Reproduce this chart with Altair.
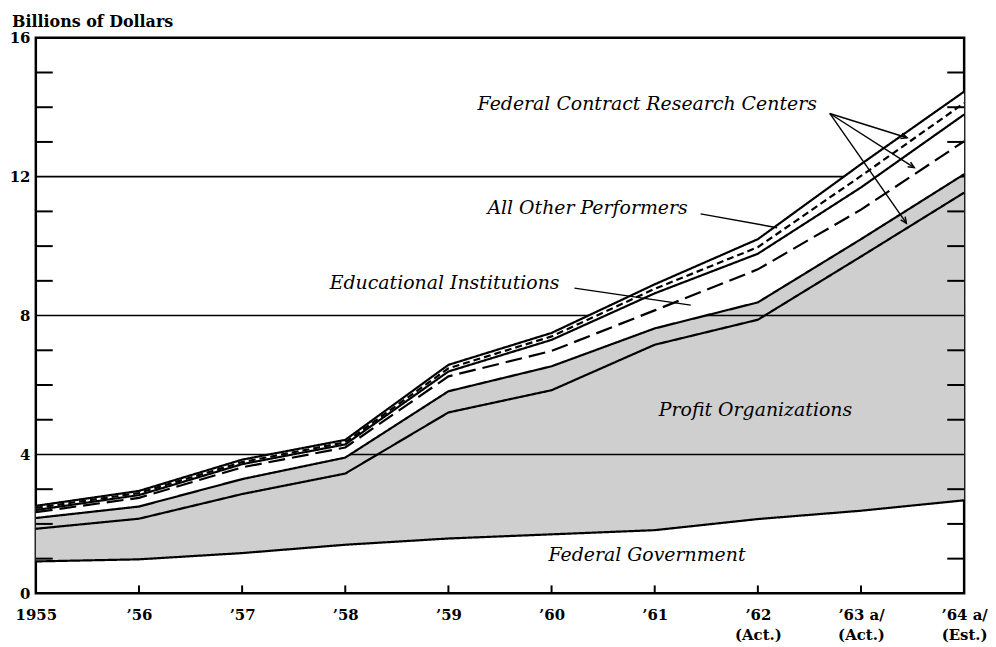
import json
import math
import altair as alt
import pandas as pd

# ---------------- data (billions of dollars, cumulative boundaries) ----------------
years = [1955, 1956, 1957, 1958, 1959, 1960, 1961, 1962, 1963, 1964]
federal_government = [0.92, 0.98, 1.16, 1.40, 1.58, 1.70, 1.82, 2.14, 2.38, 2.68]
profit_org_top = [1.86, 2.15, 2.86, 3.45, 5.21, 5.85, 7.16, 7.88, 9.70, 11.54]
fcrc_industry_top = [2.17, 2.50, 3.29, 3.91, 5.82, 6.54, 7.63, 8.38, 10.20, 12.07]
educational_top = [2.34, 2.75, 3.63, 4.20, 6.25, 6.98, 8.15, 9.33, 11.05, 13.02]
fcrc_univ_top = [2.40, 2.83, 3.72, 4.29, 6.39, 7.30, 8.64, 9.78, 11.69, 13.79]
all_other_top = [2.46, 2.89, 3.78, 4.35, 6.48, 7.40, 8.77, 9.97, 12.02, 14.12]
fcrc_other_top = [2.52, 2.95, 3.85, 4.42, 6.58, 7.50, 8.90, 10.20, 12.36, 14.45]

y_title = ["Billions of Dollars"]
x_tick_labels = [["1955"], ["\u201956"], ["\u201957"], ["\u201958"], ["\u201959"],
                 ["\u201960"], ["\u201961"], ["\u201962", "(Act.)"],
                 ["\u201963 a/", "(Act.)"], ["\u201964 a/", "(Est.)"]]
y_label_values = [0, 4, 8, 12, 16]
y_grid_values = [4, 8, 12]
y_minor_ticks = [1, 2, 3, 5, 6, 7, 9, 10, 11, 13, 14, 15]
x_inner_ticks = [1956, 1957, 1958, 1959, 1960, 1961, 1962, 1963]

# annotations (data units)
left_labels = ["Profit Organizations", "Federal Government"]
left_label_x = [1961.04, 1959.97]
left_label_y = [5.29, 1.09]
right_labels = ["Federal Contract Research Centers", "All Other Performers", "Educational Institutions"]
right_label_x = [1962.572, 1961.32, 1960.077]
right_label_y = [14.08, 11.10, 8.93]

pointer_x0 = [1961.445, 1960.222]
pointer_y0 = [10.93, 8.79]
pointer_x1 = [1962.187, 1961.349]
pointer_y1 = [10.53, 8.30]

arrow_origin_x = 1962.697
arrow_origin_y = 13.82
arrow_tip_x = [1963.447, 1963.516, 1963.440]
arrow_tip_y = [13.12, 12.26, 10.66]

# ---------------- layout ----------------
W, H = 934, 559
FONT = "DejaVu Serif"
px_per_year = W / 9.0
px_per_unit = H / 16.0

xs = alt.Scale(domain=[1955, 1964], nice=False, zero=False)
ys = alt.Scale(domain=[0, 16], nice=False)

wide = pd.DataFrame({
    "year": years, "fg": federal_government, "po": profit_org_top,
    "fi": fcrc_industry_top, "ei": educational_top, "fu": fcrc_univ_top,
    "ao": all_other_top, "fo": fcrc_other_top,
})

series_order = ["fg", "po", "fi", "ei", "fu", "ao", "fo"]
series_dash = [[1, 0], [1, 0], [1, 0], [17, 7], [1, 0], [7, 4], [1, 0]]
long = wide.melt(id_vars="year", value_vars=series_order, var_name="series", value_name="value")

label_expr = json.dumps(x_tick_labels, ensure_ascii=False) + "[round(datum.value) - 1955]"

x_axis = alt.Axis(values=years, labelExpr=label_expr, ticks=False, domain=False, grid=False,
                  labelPadding=14, labelBaseline="top", labelLineHeight=20, labelFlush=False,
                  labelOverlap=False, labelFont=FONT, labelFontSize=15, labelFontWeight="bold",
                  labelColor="black", title=None)
y_axis = alt.Axis(values=y_label_values, ticks=False, domain=False, grid=False,
                  labelPadding=6, labelFont=FONT, labelFontSize=15, labelColor="black",
                  labelFontWeight="bold", title=None)

base = alt.Chart(wide)

shaded = base.mark_area(color="#cfcfcf", opacity=1).encode(
    x=alt.X("year:Q", scale=xs, axis=x_axis),
    y=alt.Y("fg:Q", scale=ys, axis=y_axis),
    y2="fi:Q",
)

grid = alt.Chart(pd.DataFrame({"v": y_grid_values})).mark_rule(color="black", strokeWidth=1.6).encode(
    y=alt.Y("v:Q", scale=ys)
)

white_band = base.mark_area(color="white", opacity=1).encode(
    x=alt.X("year:Q", scale=xs), y=alt.Y("fi:Q", scale=ys), y2="fo:Q"
)

lines = alt.Chart(long).mark_line(color="black", strokeWidth=2.2).encode(
    x=alt.X("year:Q", scale=xs),
    y=alt.Y("value:Q", scale=ys),
    detail="series:N",
    strokeDash=alt.StrokeDash("series:N", scale=alt.Scale(domain=series_order, range=series_dash), legend=None),
)

ytick_df = pd.DataFrame({"v": y_minor_ticks})
left_ticks = alt.Chart(ytick_df).mark_rule(color="black", strokeWidth=2).encode(
    y=alt.Y("v:Q", scale=ys), x=alt.value(0), x2=alt.value(17)
)
right_ticks = alt.Chart(ytick_df).mark_rule(color="black", strokeWidth=2).encode(
    y=alt.Y("v:Q", scale=ys), x=alt.value(W - 17), x2=alt.value(W)
)
bottom_ticks = alt.Chart(pd.DataFrame({"yr": x_inner_ticks})).mark_rule(color="black", strokeWidth=2).encode(
    x=alt.X("yr:Q", scale=xs), y=alt.value(H), y2=alt.value(H - 8)
)

seg_df = pd.DataFrame({
    "x0": pointer_x0 + [arrow_origin_x] * len(arrow_tip_x),
    "y0": pointer_y0 + [arrow_origin_y] * len(arrow_tip_x),
    "x1": pointer_x1 + arrow_tip_x,
    "y1": pointer_y1 + arrow_tip_y,
})
pointers = alt.Chart(seg_df).mark_rule(color="black", strokeWidth=1.4).encode(
    x=alt.X("x0:Q", scale=xs), x2="x1:Q", y=alt.Y("y0:Q", scale=ys), y2="y1:Q"
)

angles = []
for tx, ty in zip(arrow_tip_x, arrow_tip_y):
    dx = (tx - arrow_origin_x) * px_per_year
    dy = -(ty - arrow_origin_y) * px_per_unit
    angles.append(math.degrees(math.atan2(dx, -dy)) % 360)
head_df = pd.DataFrame({"x": arrow_tip_x, "y": arrow_tip_y, "ang": angles})
heads = alt.Chart(head_df).mark_point(
    shape="M -0.45 1 L 0 0 L 0.45 1", filled=False, color="black", strokeWidth=1.5, size=150, opacity=1
).encode(
    x=alt.X("x:Q", scale=xs), y=alt.Y("y:Q", scale=ys), angle=alt.Angle("ang:Q", scale=None)
)

ltxt = alt.Chart(pd.DataFrame({"x": left_label_x, "y": left_label_y, "t": left_labels})).mark_text(
    align="left", baseline="middle", font=FONT, fontSize=19, fontStyle="italic", color="black"
).encode(x=alt.X("x:Q", scale=xs), y=alt.Y("y:Q", scale=ys), text="t:N")
rtxt = alt.Chart(pd.DataFrame({"x": right_label_x, "y": right_label_y, "t": right_labels})).mark_text(
    align="right", baseline="middle", font=FONT, fontSize=19, fontStyle="italic", color="black"
).encode(x=alt.X("x:Q", scale=xs), y=alt.Y("y:Q", scale=ys), text="t:N")

title_txt = alt.Chart(pd.DataFrame({"t": y_title})).mark_text(
    align="left", baseline="alphabetic", font=FONT, fontSize=16, fontWeight="bold", color="black"
).encode(x=alt.value(-24), y=alt.value(-11), text="t:N")

chart = alt.layer(
    shaded, grid, white_band, lines, left_ticks, right_ticks, bottom_ticks, pointers, heads,
    ltxt, rtxt, title_txt
).properties(
    width=W, height=H,
    autosize=alt.AutoSizeParams(type="none"),
    padding={"left": 28, "top": 28, "right": 24, "bottom": 50},
    background="white",
).configure_view(
    stroke="black", strokeWidth=2.5
)

chart.save("out.html", embed_options={"renderer": "svg", "actions": False})
